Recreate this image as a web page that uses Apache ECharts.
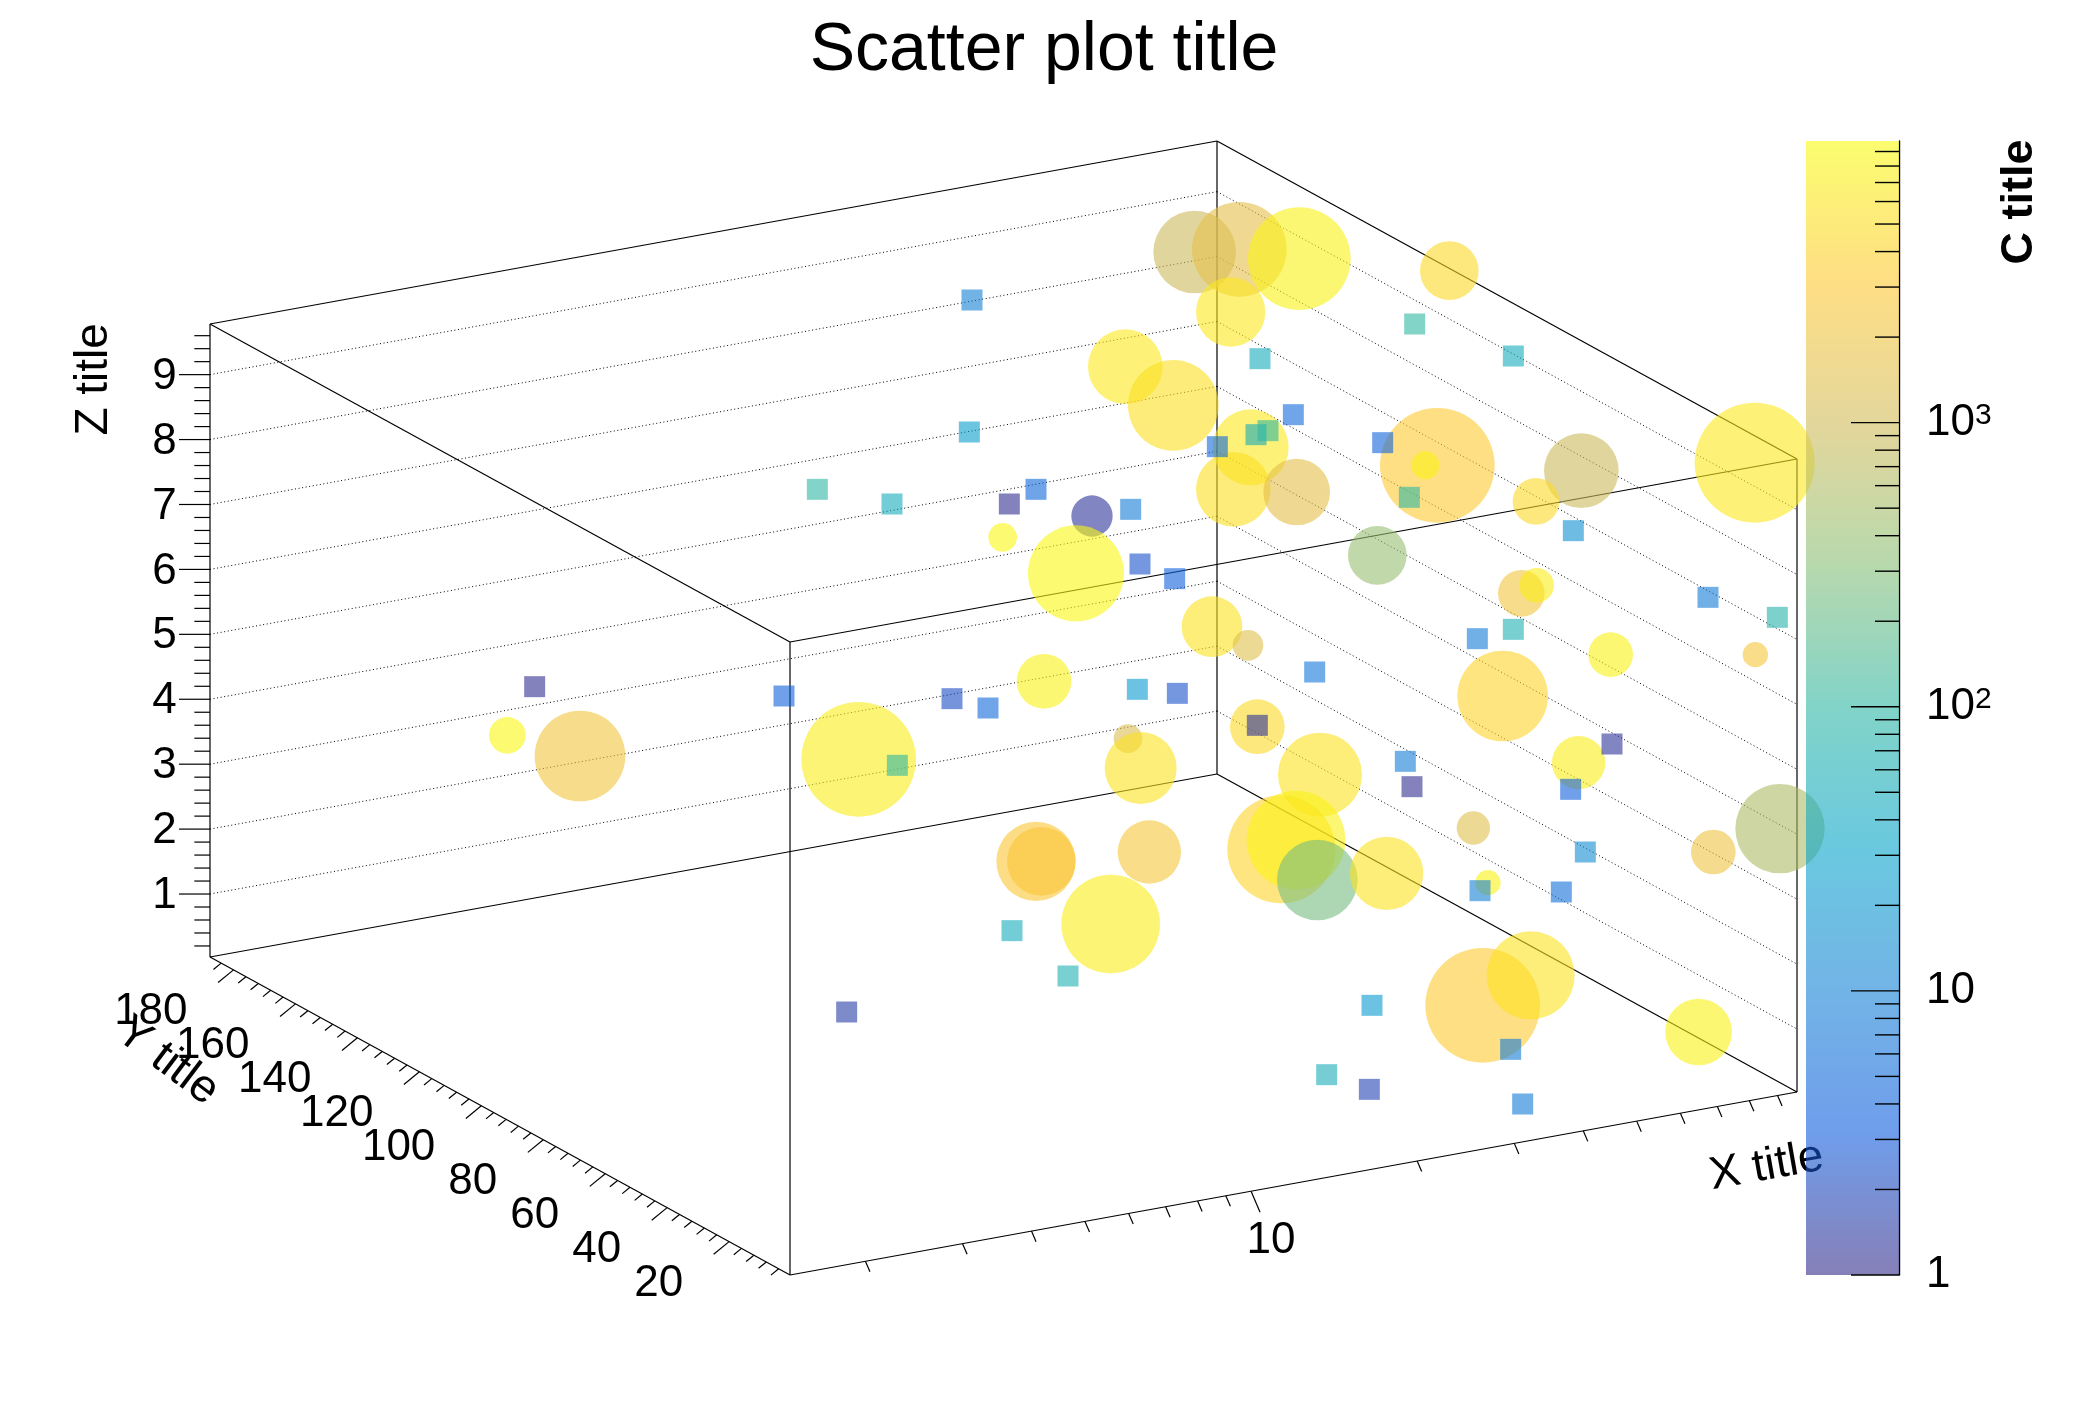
<!DOCTYPE html>
<html><head><meta charset="utf-8">
<style>html,body{margin:0;padding:0;background:#fff}#c{width:2088px;height:1416px}</style>
<script src="https://cdn.jsdelivr.net/npm/echarts@6/dist/echarts.min.js"></script>
</head><body><div id="c"></div>
<script>
// Marks, as positions on the flat projection plane (view units) plus colour value.
const squareX = [729,1061,1135,945,970,727,942,951,1037,913,613,669,777,757,848,1057,1180,855,881,1281,1333,1108,1135,401,588,714,741,853,883,986,943,673,1209,1054,1059,1178,1189,1110,1171,759,801,635,1029,1133,995,1027,1142];
const squareY = [225,243,267,269,311,324,326,323,332,335,367,378,367,378,382,373,398,423,434,448,463,479,472,515,522,524,531,517,520,504,544,574,558,571,590,592,639,668,669,698,732,759,754,787,806,817,828];
const squareLogC = [1.0,2.0,1.7,1.7,0.7,1.4,1.7,2.0,0.6,0.7,2.0,1.7,0.65,0.05,0.95,2.0,1.2,0.4,0.55,0.9,1.9,0.9,1.8,0.05,0.55,0.35,0.7,1.35,0.4,0.85,0.1,2.0,0.1,0.95,0.05,0.55,1.15,1.0,0.75,1.7,1.8,0.2,1.35,0.9,1.75,0.25,0.9];

const circleX = [896,929.5,974.5,1087,923,844,880,938,925,972.5,1078,1069,819,807,1033,1186,1152,1316,752,909,936,1141,1152.5,1208,1316.5,1127,943,990,1184,1105,1285,1335,961,972,988,1040,1116,1112,1148,1274,380.5,435,644,783,846,855.5,777,781,862,833];
const circleY = [189,187,194,203,234,275,304,335.5,367,369,349,349,387,430,416.5,353,376,347,403,470,484,445,439,491,491,522,545,581,572,621,639,621.5,637,630,660,655,662,754,731.5,774,551.5,567,569.5,511,554,576,646,646,639,693];
const circleSize = [62,71,77,44,52,56,68,57,56,50,86,21,31,72,44,56,35,90,21.5,45.5,23,35,26,33.5,19,68,41,63,40,25,33.5,67,81,74,60.5,55,19,86,66,50,27.5,68,86,41,21.5,54,59.5,51.5,47.5,74];
const circleLogC = [2.95,3.2,3.9,3.65,3.8,3.8,3.72,3.8,3.72,3.2,3.5,3.9,0.1,3.95,2.6,2.95,3.65,3.8,3.95,3.75,3.15,3.35,3.85,3.9,3.4,3.6,3.65,3.75,3.85,3.15,3.3,2.75,3.6,3.9,2.4,3.75,3.9,3.5,3.75,3.9,3.95,3.35,3.85,3.9,3.1,3.75,3.45,3.45,3.4,3.85];

// Axis scales and tick labels
const xRange = [1.46, 97.6], yRange = [0.34, 187.6], zRange = [0.03, 9.78];
const xMinorTicks = [2,3,4,5,6,7,8,9,20,30,40,50,60,70,80,90];
const xMajorTicks = [10];
const yMajorTicks = [20,40,60,80,100,120,140,160,180];
const zMajorTicks = [1,2,3,4,5,6,7,8,9];
const colorMajorTicks = [1,10,100,1000];
const colorMinorTicks = [2,3,4,5,6,7,8,9,20,30,40,50,60,70,80,90,200,300,400,500,600,700,800,900,2000,3000,4000,5000,6000,7000,8000,9000];
const colorMax = 9800;
const birdPalette = ['#352A87','#0F5CDD','#1481D6','#06A4CA','#2EB7A4','#87BF77','#D1BB59','#FEC832','#F9FB0E'];

// Layout of the projected box, in view units
const VW = 1566, VH = 1062, FONT = '"Liberation Sans", Arial, sans-serif';
const A = [592.5, 956.25], B = [1347.75, 819], C = [157.5, 717.75], H = 474.75;
const ALPHA = 0.6, SQUARE = 21, K = 2088 / VW;

function project(x, y, z) {
  const tx = (Math.log10(x) - Math.log10(xRange[0])) / (Math.log10(xRange[1]) - Math.log10(xRange[0]));
  const ty = (y - yRange[0]) / (yRange[1] - yRange[0]);
  const tz = (z - zRange[0]) / (zRange[1] - zRange[0]);
  return [A[0] + tx * (B[0] - A[0]) + ty * (C[0] - A[0]),
          A[1] + tx * (B[1] - A[1]) + ty * (C[1] - A[1]) - tz * H];
}
const [x0, x1] = xRange, [y0, y1] = yRange, [z0, z1] = zRange;
const seg = (p, q) => [p[0], p[1], q[0], q[1]];

// Box edges
const edges = [
  [[x0,y0,z0],[x1,y0,z0]],[[x0,y0,z0],[x0,y1,z0]],[[x0,y1,z0],[x1,y1,z0]],[[x1,y0,z0],[x1,y1,z0]],
  [[x0,y0,z1],[x1,y0,z1]],[[x0,y0,z1],[x0,y1,z1]],[[x0,y1,z1],[x1,y1,z1]],[[x1,y0,z1],[x1,y1,z1]],
  [[x0,y0,z0],[x0,y0,z1]],[[x1,y0,z0],[x1,y0,z1]],[[x0,y1,z0],[x0,y1,z1]],[[x1,y1,z0],[x1,y1,z1]]
].map(e => seg(project(...e[0]), project(...e[1])));

// Ticks
const tick = [];
const addTick = (p, dx, dy) => tick.push([p[0], p[1], p[0] + dx, p[1] + dy]);
xMinorTicks.forEach(v => addTick(project(v, y0, z0), 3.4, 7.9));
xMajorTicks.forEach(v => addTick(project(v, y0, z0), 6.75, 15.75));
for (let v = 4; v < y1; v += 4) {
  if (v % 20 === 0) addTick(project(x0, v, z0), -11.6, 9.5);
  else addTick(project(x0, v, z0), -5.8, 4.75);
}
for (let i = 1; i * 0.2 < z1; i++) {
  if (i % 5 === 0) addTick(project(x0, y1, i * 0.2), -23.25, 0);
  else addTick(project(x0, y1, i * 0.2), -11.75, 0);
}

// Dotted z grid on the two back walls
const grid3d = [];
zMajorTicks.forEach(z => {
  grid3d.push(seg(project(x0, y1, z), project(x1, y1, z)));
  grid3d.push(seg(project(x1, y1, z), project(x1, y0, z)));
});

// Text
const texts = [];
const addText = (p, text, o) => texts.push(Object.assign({ x: p[0], y: p[1], text, size: 44, align: 'center', rot: 0 }, o));
xMajorTicks.forEach(v => { const p = project(v, y0, z0); addText([p[0] + 15, p[1] + 37.5], String(v), {}); });
yMajorTicks.forEach(v => { const p = project(x0, v, z0); addText([p[0] - 34.5, p[1] + 31.5], String(v), { align: 'right' }); });
zMajorTicks.forEach(v => { const p = project(x0, y1, v); addText([p[0] - 25, p[1] + 1.5], String(v), { align: 'right' }); });
addText([1325, 875], 'X title', { size: 46, rot: 10 });
addText([125.5, 796], 'Y title', { size: 46, rot: -37 });
addText([70.5, 284.5], 'Z title', { size: 46, rot: 90 });
addText([1515, 151.5], 'C title', { size: 45, rot: 90, bold: true });

const lineRender = (width, dash, arr) => (params, api) => {
  const a = api.coord([api.value(0), api.value(1)]), b = api.coord([api.value(2), api.value(3)]);
  return { type: 'line', shape: { x1: a[0], y1: a[1], x2: b[0], y2: b[1] },
           style: { stroke: '#000', lineWidth: width, lineDash: dash, fill: null } };
};
const colorTick = (len) => (params, api) => {
  const p = api.coord([1, api.value(0)]);
  return { type: 'line', shape: { x1: p[0], y1: p[1], x2: p[0] - len, y2: p[1] }, style: { stroke: '#000', lineWidth: 1.4 }, z2: 5 };
};
const sup = { fontSize: 30, fontFamily: FONT, color: '#000', verticalAlign: 'top', padding: [0, 0, 0, 0], lineHeight: 30 };

const option = {
  animation: false,
  backgroundColor: '#fff',
  title: { text: 'Scatter plot title', left: 'center', top: 12,
           textStyle: { fontFamily: FONT, fontWeight: 'normal', fontSize: 68, color: '#000' } },
  grid: [
    { left: 0, right: 0, top: 0, bottom: 0, containLabel: false },
    { left: 1806, width: 93, top: 141, height: 1134, containLabel: false }
  ],
  xAxis: [
    { type: 'value', gridIndex: 0, min: 0, max: VW, show: false },
    { type: 'value', gridIndex: 1, min: 0, max: 1, show: false }
  ],
  yAxis: [
    { type: 'value', gridIndex: 0, min: 0, max: VH, inverse: true, show: false },
    { type: 'log', gridIndex: 1, min: 1, max: colorMax, position: 'right', logBase: 10,
      splitLine: { show: false }, axisTick: { show: false }, minorTick: { show: false },
      axisLine: { show: true, onZero: false, lineStyle: { color: '#000', width: 1.4 } },
      axisLabel: { show: true, margin: 27, showMaxLabel: false, fontFamily: FONT, fontSize: 44, color: '#000',
        formatter: v => v === 1 ? '1' : v === 10 ? '10' : v === 100 ? '{b|10}{s|2}' : v === 1000 ? '{b|10}{s|3}' : '',
        rich: { b: { fontSize: 44, fontFamily: FONT, color: '#000' }, s: sup } } }
  ],
  visualMap: { show: false, type: 'continuous', dimension: 2, min: 0, max: 3.99, seriesIndex: [3, 4], inRange: { color: birdPalette } },
  series: [
    { type: 'custom', coordinateSystem: 'cartesian2d', xAxisIndex: 0, yAxisIndex: 0, z: 1, silent: true, clip: false,
      renderItem: lineRender(1, [1, 2.6]), data: grid3d },
    { type: 'custom', coordinateSystem: 'cartesian2d', xAxisIndex: 0, yAxisIndex: 0, z: 1, silent: true, clip: false,
      renderItem: lineRender(1.2, null), data: edges.concat(tick) },
    { type: 'custom', coordinateSystem: 'cartesian2d', xAxisIndex: 0, yAxisIndex: 0, z: 1, silent: true, clip: false,
      renderItem: (params, api) => {
        const t = texts[params.dataIndex], p = api.coord([api.value(0), api.value(1)]);
        return { type: 'text', x: p[0], y: p[1], rotation: t.rot * Math.PI / 180,
          style: { text: t.text, fill: '#000', align: t.align, verticalAlign: 'middle',
                   font: (t.bold ? 'bold ' : '') + t.size + 'px ' + FONT } };
      }, data: texts.map(t => [t.x, t.y]) },
    { type: 'scatter', name: 'circles', xAxisIndex: 0, yAxisIndex: 0, z: 2, silent: true, clip: false,
      symbol: 'circle', symbolSize: v => v[3] * K, itemStyle: { opacity: ALPHA },
      data: circleX.map((x, i) => [x, circleY[i], circleLogC[i], circleSize[i]]) },
    { type: 'scatter', name: 'squares', xAxisIndex: 0, yAxisIndex: 0, z: 3, silent: true, clip: false,
      symbol: 'rect', symbolSize: SQUARE, itemStyle: { opacity: ALPHA },
      data: squareX.map((x, i) => [x, squareY[i], squareLogC[i]]) },
    { type: 'custom', coordinateSystem: 'cartesian2d', xAxisIndex: 1, yAxisIndex: 1, z: 4, silent: true, clip: false,
      renderItem: (params, api) => {
        const a = api.coord([0, api.value(1)]), b = api.coord([1, api.value(2)]);
        return { type: 'rect', shape: { x: a[0], y: b[1], width: b[0] - a[0], height: a[1] - b[1] },
          style: { opacity: ALPHA, fill: new echarts.graphic.LinearGradient(0, 1, 0, 0,
            birdPalette.map((c, i) => ({ offset: i / (birdPalette.length - 1), color: c }))) } };
      }, data: [[0, 1, colorMax]], dimensions: ['a', 'lo', 'hi'], encode: { x: 0, y: 1 } },
    { type: 'custom', coordinateSystem: 'cartesian2d', xAxisIndex: 1, yAxisIndex: 1, z: 5, silent: true, clip: false,
      renderItem: colorTick(24), data: colorMinorTicks.map(v => [v]), encode: { y: 0 } },
    { type: 'custom', coordinateSystem: 'cartesian2d', xAxisIndex: 1, yAxisIndex: 1, z: 5, silent: true, clip: false,
      renderItem: colorTick(48), data: colorMajorTicks.map(v => [v]), encode: { y: 0 } }
  ]
};
const chart = echarts.init(document.getElementById('c'), null, { renderer: 'canvas' });
chart.setOption(option);
</script></body></html>
